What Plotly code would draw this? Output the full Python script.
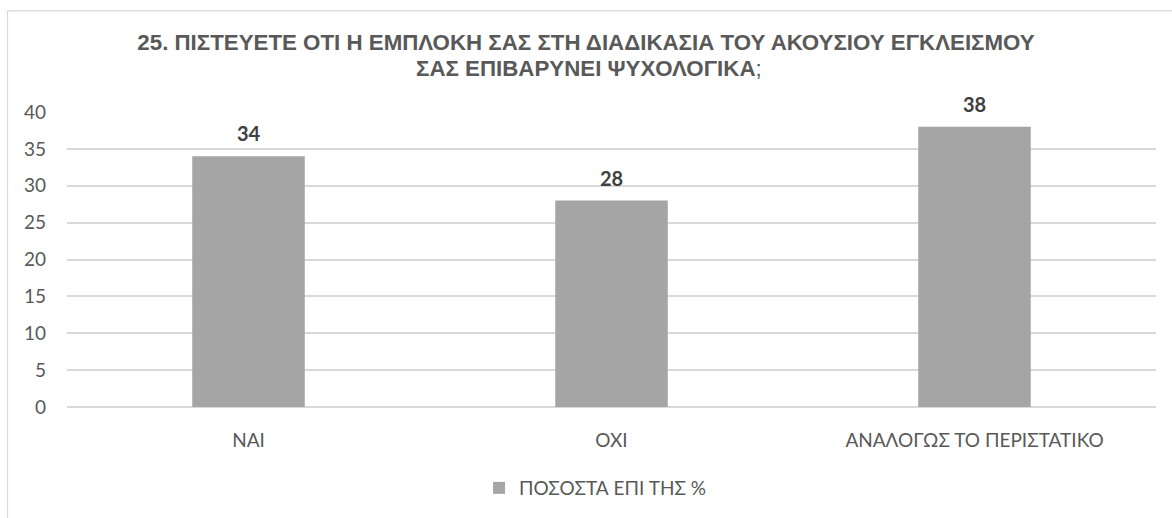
import plotly.graph_objects as go

categories = ["ΝΑΙ", "ΌΧΙ", "ΑΝΑΛΟΓΩΣ ΤΟ ΠΕΡΙΣΤΑΤΙΚΟ"]
values = [34, 28, 38]
series_name = "ΠΟΣΟΣΤΑ ΕΠΙ ΤΗΣ %"
y_ticks = [0, 5, 10, 15, 20, 25, 30, 35, 40]
title_lines = [
    "25. ΠΙΣΤΕΥΕΤΕ ΟΤΙ Η ΕΜΠΛΟΚΗ ΣΑΣ ΣΤΗ ΔΙΑΔΙΚΑΣΙΑ ΤΟΥ ΑΚΟΥΣΙΟΥ ΕΓΚΛΕΙΣΜΟΥ",
    "ΣΑΣ ΕΠΙΒΑΡΥΝΕΙ ΨΥΧΟΛΟΓΙΚΑ",
]

W, H = 1172, 518
ML, MR, MT, MB = 67, 16, 112, 110
plot_w = W - ML - MR
plot_h = H - MT - MB

def px_x(x):
    return (x - ML) / plot_w

def px_y(y):
    return (H - MB - y) / plot_h

label_font = "Lato, 'Open Sans', sans-serif"
title_font = dict(family="'Liberation Sans', Arial, sans-serif", size=22.3, color="#595959")

fig = go.Figure()
fig.add_trace(go.Bar(
    x=categories,
    y=values,
    name=series_name,
    marker=dict(color="#a5a5a5", line=dict(width=0)),
    width=0.31,
    showlegend=True,
))

annotations = [
    dict(
        x=c, y=v, xref="x", yref="y",
        text=str(v),
        showarrow=False,
        yanchor="bottom",
        yshift=9,
        font=dict(family=label_font, size=20, color="#404040", weight="bold"),
    )
    for c, v in zip(categories, values)
]
annotations.append(dict(
    x=px_x(589), y=px_y(68), xref="paper", yref="paper",
    xanchor="center", yanchor="middle",
    text=f"<b>{title_lines[1]}</b>;",
    showarrow=False,
    font=title_font,
))

fig.update_layout(
    width=W,
    height=H,
    margin=dict(l=ML, r=MR, t=MT, b=MB),
    paper_bgcolor="white",
    plot_bgcolor="white",
    title=dict(
        text=f"<b>{title_lines[0]}</b>",
        x=0.5,
        xanchor="center",
        y=1 - 42 / H,
        yanchor="middle",
        font=title_font,
    ),
    annotations=annotations,
    xaxis=dict(
        showgrid=False,
        showline=False,
        ticks="",
        tickfont=dict(family=label_font, size=19, color="#595959"),
        ticklabelstandoff=20,
    ),
    yaxis=dict(
        range=[0, 40],
        tickvals=y_ticks,
        showgrid=True,
        gridcolor="#d9d9d9",
        gridwidth=1.5,
        zeroline=True,
        zerolinecolor="#d9d9d9",
        zerolinewidth=1.5,
        showline=False,
        ticks="",
        tickfont=dict(family=label_font, size=19, color="#595959"),
        ticklabelstandoff=20,
    ),
    legend=dict(
        orientation="h",
        x=0.5 - 16 / plot_w,
        xanchor="center",
        y=px_y(488),
        yanchor="middle",
        font=dict(family=label_font, size=19, color="#595959"),
        itemwidth=30,
    ),
    shapes=[
        dict(
            type="rect",
            xref="paper",
            yref="paper",
            x0=px_x(7.5),
            x1=px_x(W + 20),
            y0=px_y(H + 20),
            y1=px_y(10.5),
            line=dict(color="#d9d9d9", width=1.2),
            fillcolor="rgba(0,0,0,0)",
            layer="below",
        )
    ],
)

fig.write_html("out.html")
